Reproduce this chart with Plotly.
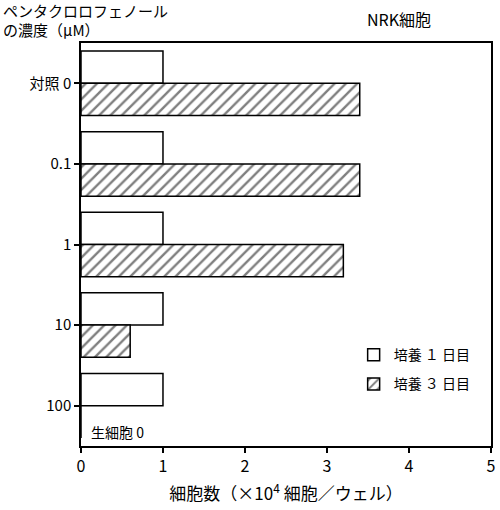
import plotly.graph_objects as go

# pentachlorophenol concentration (uM) and cell counts (x10^4 cells/well)
concentrations = ["対照 0", "0.1", "1", "10", "100"]
day1_counts = [1.0, 1.0, 1.0, 1.0, 1.0]
day3_counts = [3.4, 3.4, 3.2, 0.6, 0.0]
series_names = ["培養 １ 日目", "培養 ３ 日目"]

FONT = "Noto Sans CJK JP"

fig = go.Figure()
fig.add_trace(go.Bar(
    y=concentrations, x=day1_counts, name=series_names[0], orientation="h",
    legendgroup="d1",
    marker=dict(color="white", line=dict(color="black", width=1.5)),
))
fig.add_trace(go.Bar(
    y=concentrations, x=day3_counts, name=series_names[1], orientation="h",
    legendgroup="d3",
    marker=dict(color="white", line=dict(color="black", width=1.5),
                pattern=dict(shape="/", fgcolor="black", bgcolor="white",
                             size=8, solidity=0.3)),
))

fig.update_layout(
    width=500, height=510,
    margin=dict(l=81, r=9, t=43, b=64),
    paper_bgcolor="white", plot_bgcolor="white",
    font=dict(family=FONT, size=14, color="black"),
    barmode="group", bargap=0.2, bargroupgap=0,
    showlegend=True,
    legend=dict(x=0.665, y=0.265, xanchor="left", yanchor="top",
                bgcolor="rgba(0,0,0,0)", font=dict(size=14, family=FONT),
                tracegroupgap=8, itemwidth=30, traceorder="grouped"),
)
fig.update_xaxes(
    range=[0, 5.001], tickvals=[0, 1, 2, 3, 4, 5], showgrid=False, zeroline=False,
    showline=True, linecolor="black", linewidth=1.5, mirror=True,
    ticks="outside", ticklen=5, tickcolor="black", tickwidth=1.5,
    tickfont=dict(size=16), automargin=False,
    title=dict(text="細胞数（×10<sup>4</sup> 細胞／ウェル）", font=dict(size=17), standoff=12),
)
fig.update_yaxes(
    autorange="reversed", showgrid=False, zeroline=False,
    showline=True, linecolor="black", linewidth=1.5, mirror=True,
    ticks="outside", ticklen=5, tickcolor="black", tickwidth=1.5,
    tickfont=dict(size=15), automargin=False,
)

fig.add_annotation(text="ペンタクロロフェノール", xref="paper", yref="paper",
                   x=-0.195, y=1.0, xanchor="left", yanchor="bottom", yshift=20,
                   showarrow=False, font=dict(size=15))
fig.add_annotation(text="の濃度（μM）", xref="paper", yref="paper",
                   x=-0.195, y=1.0, xanchor="left", yanchor="bottom", yshift=1,
                   showarrow=False, font=dict(size=15))
fig.add_annotation(text="NRK細胞", xref="paper", yref="paper",
                   x=0.775, y=1.0, xanchor="center", yanchor="bottom", yshift=10,
                   showarrow=False, font=dict(size=16))
fig.add_annotation(text="生細胞 0", xref="paper", yref="paper",
                   x=0.02, y=0.035, xanchor="left", yanchor="middle",
                   showarrow=False, font=dict(size=14))

# drop the browser's default body margin so the figure sits at the page corner
fig.write_html("out.html", config={"displayModeBar": False},
               post_script="document.body.style.margin='0';")
